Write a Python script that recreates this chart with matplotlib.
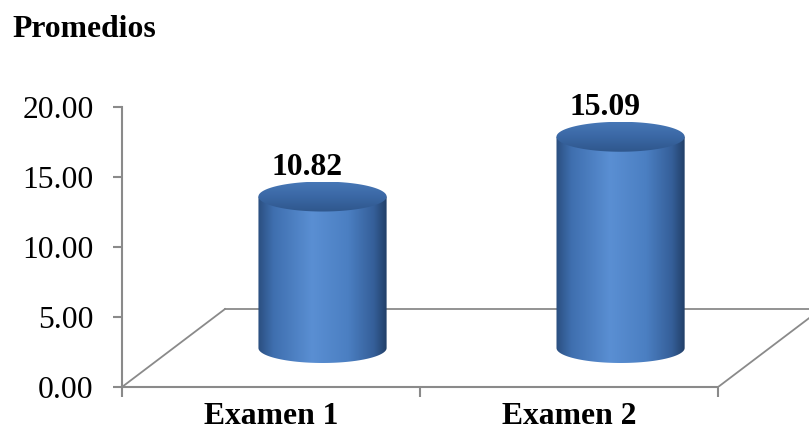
import numpy as np
import matplotlib
matplotlib.use('Agg')
import matplotlib.pyplot as plt
from matplotlib.patches import Polygon
from matplotlib.colors import LinearSegmentedColormap

# datos
categorias = ['Examen 1', 'Examen 2']
promedios = [10.82, 15.09]
y_ticks = [0, 5, 10, 15, 20]

plt.rcParams['font.family'] = ['Liberation Serif', 'DejaVu Serif']
fs = 22.8

fig = plt.figure(figsize=(8.09, 4.38), dpi=100)
ax = fig.add_axes([122 / 809, 51 / 438, 687 / 809, 327.6 / 438])

# "profundidad" del piso 3D (en unidades de datos)
dx, dy = 0.3456, 5.57
a, b = 0.215, 1.07   # semi-ejes del cilindro

gris = '#8a8a8a'
x0, x1 = -0.5, len(categorias) - 0.5

# piso
ax.plot([x0, x0 + dx], [0, dy], color=gris, lw=1.3, zorder=1)
ax.plot([x0 + dx, x1 + dx + 1], [dy, dy], color=gris, lw=1.3, zorder=1)
ax.plot([x1, x1 + dx], [0, dy], color=gris, lw=1.3, zorder=1)

cuerpo_cmap = LinearSegmentedColormap.from_list('cuerpo', [
    (0.0, '#2b4f80'), (0.12, '#3f6faf'), (0.42, '#5a8fd3'),
    (0.7, '#4b7fc2'), (0.9, '#355f99'), (1.0, '#223f68')])
tapa_cmap = LinearSegmentedColormap.from_list('tapa', [
    (0.0, '#2f578c'), (0.5, '#3a67a4'), (1.0, '#4777b6')])

t = np.linspace(0, 2 * np.pi, 200)
for i, v in enumerate(promedios):
    cx = i + 0.5 * dx
    yb = 0.5 * dy
    yt = yb + v
    # cuerpo
    tt = np.linspace(np.pi, 2 * np.pi, 100)
    xs = list(cx + a * np.cos(tt)) + [cx + a, cx - a]
    ys = list(yb + b * np.sin(tt)) + [yt, yt]
    poly = Polygon(np.column_stack([xs, ys]), closed=True, fc='none', ec='none')
    ax.add_patch(poly)
    grad = np.linspace(0, 1, 256).reshape(1, -1)
    im = ax.imshow(grad, extent=[cx - a, cx + a, yb - b, yt], aspect='auto',
                   cmap=cuerpo_cmap, zorder=3, interpolation='bilinear')
    im.set_clip_path(poly)
    # tapa
    tapa = Polygon(np.column_stack([cx + a * np.cos(t), yt + b * np.sin(t)]),
                   closed=True, fc='none', ec='none')
    ax.add_patch(tapa)
    gv = np.linspace(0, 1, 128).reshape(-1, 1)
    im2 = ax.imshow(gv, extent=[cx - a, cx + a, yt - b, yt + b], aspect='auto',
                    cmap=tapa_cmap, origin='lower', zorder=4, interpolation='bilinear')
    im2.set_clip_path(tapa)
    # etiqueta
    ax.text(i + 0.12, yt + b + 0.46, f'{v:.2f}', ha='center', va='baseline',
            fontsize=fs, fontweight='bold', zorder=5)

ax.set_xlim(-0.5, 1.805)
ax.set_ylim(0, 23.4)

for s in ['top', 'right']:
    ax.spines[s].set_visible(False)
ax.spines['left'].set_bounds(0, 20)
ax.spines['bottom'].set_bounds(x0, x1)
for s in ['left', 'bottom']:
    ax.spines[s].set_color(gris)
    ax.spines[s].set_linewidth(1.5)

ax.set_yticks(y_ticks)
ax.set_yticklabels([f'{y:.2f}' for y in y_ticks])
ax.tick_params(axis='y', length=6.5, width=1.5, color=gris, pad=14, labelsize=fs)

ax.set_xticks(np.arange(x0, x1 + 0.01, 1.0))
ax.set_xticklabels([])
ax.set_xticks(range(len(categorias)), minor=True)
ax.set_xticklabels(categorias, minor=True, fontweight='bold', fontsize=fs)
ax.tick_params(axis='x', which='major', length=7, width=1.5, color=gris)
ax.tick_params(axis='x', which='minor', length=0, pad=11)

fig.text(12 / 809, 1 - 37 / 438, 'Promedios', fontsize=fs, fontweight='bold',
         va='baseline', ha='left')

fig.savefig('out.png', dpi=100)
